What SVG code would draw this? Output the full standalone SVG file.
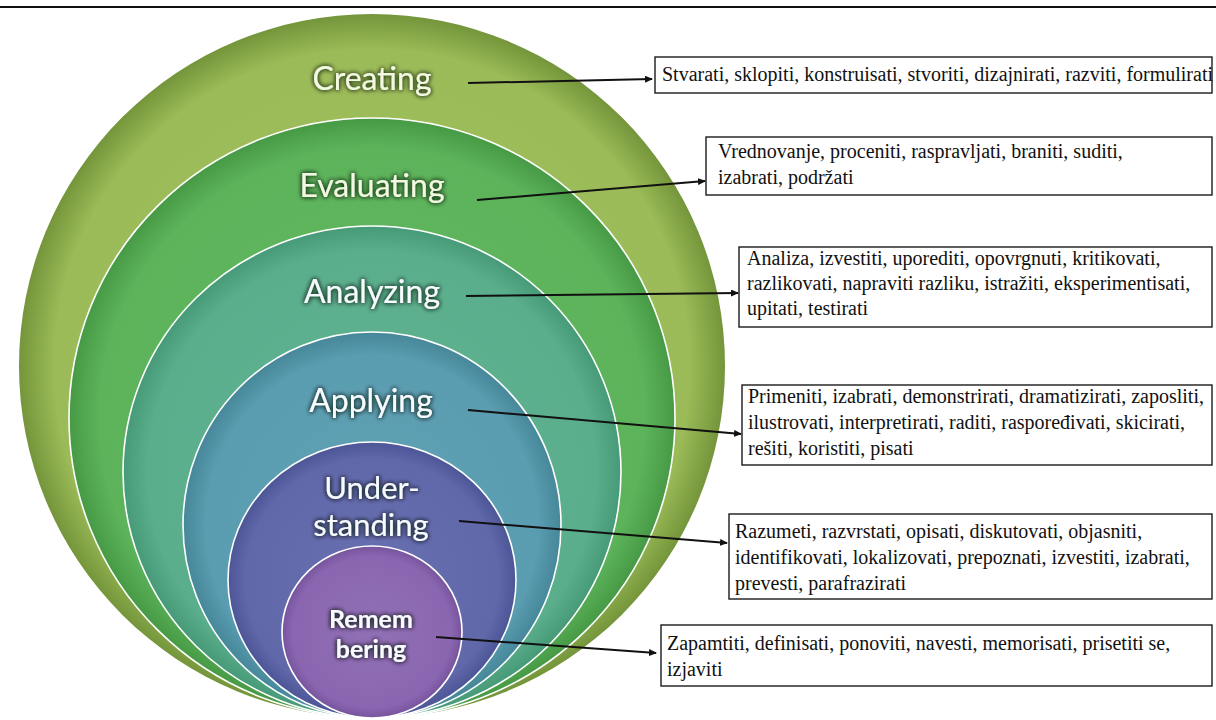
<svg xmlns="http://www.w3.org/2000/svg" width="1216" height="720" viewBox="0 0 1216 720">
<defs>
<style>
.lvl{stroke:#ffffff;stroke-width:1.6}
.lbl{font-family:Lato,"Open Sans","DejaVu Sans",sans-serif;font-size:32px;text-anchor:middle;fill:#f7fbff;filter:url(#glow)}
.cream{fill:#f3f8e2}
.box{fill:#ffffff;stroke:#1a1a1a;stroke-width:1.4}
.bt{font-size:20px;fill:#111111}
.conn{stroke:#111111;stroke-width:2;fill:none;marker-end:url(#arr)}
</style>
<filter id="glow" x="-20%" y="-50%" width="140%" height="200%">
<feGaussianBlur in="SourceAlpha" stdDeviation="2.4" result="b"/>
<feFlood flood-color="#0b1a0a" flood-opacity="0.75"/>
<feComposite in2="b" operator="in" result="s"/>
<feMerge><feMergeNode in="s"/><feMergeNode in="s"/><feMergeNode in="SourceGraphic"/></feMerge>
</filter>
<marker id="arr" markerWidth="8" markerHeight="7" refX="7" refY="3.5" orient="auto" markerUnits="userSpaceOnUse">
<path d="M0,0 L8,3.5 L0,7 z" fill="#111111"/>
</marker>
<radialGradient id="g1" cx="0.5" cy="0.5" r="0.5">
<stop offset="0" stop-color="#a2c25f"/><stop offset="0.9" stop-color="#9bbb58"/><stop offset="1" stop-color="#74953a"/>
</radialGradient>
<radialGradient id="g2" cx="0.5" cy="0.5" r="0.5">
<stop offset="0" stop-color="#64b962"/><stop offset="0.9" stop-color="#5cb35a"/><stop offset="1" stop-color="#479a45"/>
</radialGradient>
<radialGradient id="g3" cx="0.5" cy="0.5" r="0.5">
<stop offset="0" stop-color="#62b493"/><stop offset="0.9" stop-color="#5aae8c"/><stop offset="1" stop-color="#469a78"/>
</radialGradient>
<radialGradient id="g4" cx="0.5" cy="0.5" r="0.5">
<stop offset="0" stop-color="#62a3b5"/><stop offset="0.88" stop-color="#5a9cb0"/><stop offset="1" stop-color="#468799"/>
</radialGradient>
<radialGradient id="g5" cx="0.5" cy="0.5" r="0.5">
<stop offset="0" stop-color="#6970b1"/><stop offset="0.88" stop-color="#6068aa"/><stop offset="1" stop-color="#4c5596"/>
</radialGradient>
<radialGradient id="g6" cx="0.5" cy="0.5" r="0.5">
<stop offset="0" stop-color="#9170b6"/><stop offset="0.88" stop-color="#8a66b0"/><stop offset="1" stop-color="#76549c"/>
</radialGradient>
</defs>
<rect x="0" y="0" width="1216" height="720" fill="#ffffff"/>
<line x1="0" y1="7" x2="1216" y2="7" stroke="#111111" stroke-width="2"/>

<g id="creating">
<ellipse cx="372" cy="366" rx="353" ry="352" fill="url(#g1)"/>
<text class="lbl cream" x="372" y="90">Creating</text>
</g>
<g id="evaluating">
<ellipse class="lvl" cx="372" cy="418" rx="303" ry="300" fill="url(#g2)"/>
<text class="lbl cream" x="372" y="197">Evaluating</text>
</g>
<g id="analyzing">
<ellipse class="lvl" cx="372" cy="472" rx="249" ry="246" fill="url(#g3)"/>
<text class="lbl" x="372" y="303">Analyzing</text>
</g>
<g id="applying">
<ellipse class="lvl" cx="372" cy="525" rx="189" ry="193" fill="url(#g4)"/>
<text class="lbl" x="371" y="412">Applying</text>
</g>
<g id="understanding">
<ellipse class="lvl" cx="372" cy="580" rx="144" ry="138" fill="url(#g5)"/>
<text class="lbl" x="372" y="499" style="font-size:31px">Under-</text>
<text class="lbl" x="371" y="536" style="font-size:31px">standing</text>
</g>
<g id="remembering">
<ellipse class="lvl" cx="372" cy="632" rx="90" ry="86" fill="url(#g6)"/>
<text class="lbl" x="371" y="628" style="font-size:25px;font-weight:bold">Remem</text>
<text class="lbl" x="371" y="658" style="font-size:25px;font-weight:bold">bering</text>
</g>

<g id="box-creating" font-family="'Liberation Serif', 'Times New Roman', serif">
<rect class="box" x="655" y="57" width="557" height="36"/>
<text class="bt" x="662" y="81">Stvarati, sklopiti, konstruisati, stvoriti, dizajnirati, razviti, formulirati</text>
</g>
<g id="box-evaluating" font-family="'Liberation Serif', 'Times New Roman', serif">
<rect class="box" x="706" y="137" width="506" height="58"/>
<text class="bt" x="718" y="158">Vrednovanje, proceniti, raspravljati, braniti, suditi,</text>
<text class="bt" x="718" y="184">izabrati, podržati</text>
</g>
<g id="box-analyzing" font-family="'Liberation Serif', 'Times New Roman', serif">
<rect class="box" x="739" y="247" width="473" height="80"/>
<text class="bt" x="747" y="265">Analiza, izvestiti, uporediti, opovrgnuti, kritikovati,</text>
<text class="bt" x="747" y="290">razlikovati, napraviti razliku, istražiti, eksperimentisati,</text>
<text class="bt" x="747" y="315">upitati, testirati</text>
</g>
<g id="box-applying" font-family="'Liberation Serif', 'Times New Roman', serif">
<rect class="box" x="742" y="385" width="470" height="80"/>
<text class="bt" x="748" y="403">Primeniti, izabrati, demonstrirati, dramatizirati, zaposliti,</text>
<text class="bt" x="748" y="429">ilustrovati, interpretirati, raditi, raspoređivati, skicirati,</text>
<text class="bt" x="748" y="455">rešiti, koristiti, pisati</text>
</g>
<g id="box-understanding" font-family="'Liberation Serif', 'Times New Roman', serif">
<rect class="box" x="729" y="514" width="483" height="85"/>
<text class="bt" x="735" y="538">Razumeti, razvrstati, opisati, diskutovati, objasniti,</text>
<text class="bt" x="735" y="564">identifikovati, lokalizovati, prepoznati, izvestiti, izabrati,</text>
<text class="bt" x="735" y="590">prevesti, parafrazirati</text>
</g>
<g id="box-remembering" font-family="'Liberation Serif', 'Times New Roman', serif">
<rect class="box" x="661" y="625" width="551" height="61"/>
<text class="bt" x="667" y="650">Zapamtiti, definisati, ponoviti, navesti, memorisati, prisetiti se,</text>
<text class="bt" x="667" y="676">izjaviti</text>
</g>

<g id="connectors">
<line class="conn" x1="468" y1="83" x2="652" y2="79"/>
<line class="conn" x1="477" y1="200" x2="705" y2="181"/>
<line class="conn" x1="466" y1="296" x2="738" y2="293"/>
<line class="conn" x1="468" y1="410" x2="741" y2="434"/>
<line class="conn" x1="459" y1="521" x2="727" y2="543"/>
<line class="conn" x1="436" y1="637" x2="656" y2="653"/>
</g>
</svg>
